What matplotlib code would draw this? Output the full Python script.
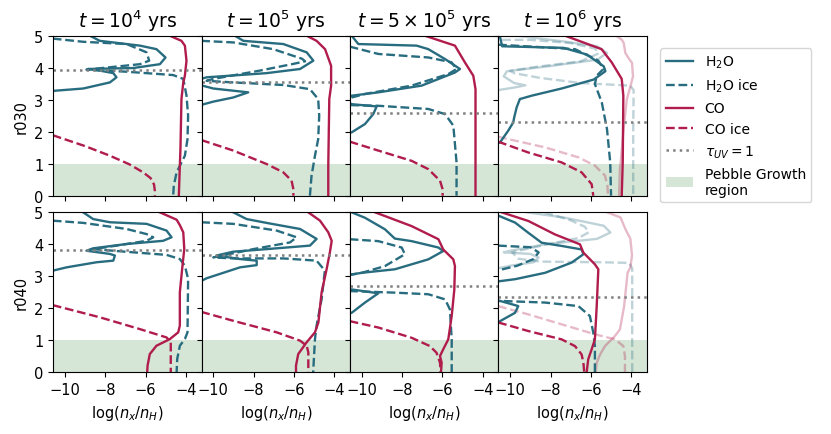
import numpy as np
import matplotlib.pyplot as plt
from matplotlib.lines import Line2D
from matplotlib.patches import Patch

teal = '#286c80'
crim = '#b01c4c'
green = '#2e7d32'

titles = [r'$t = 10^4$ yrs', r'$t = 10^5$ yrs', r'$t = 5\times10^5$ yrs', r'$t = 10^6$ yrs']
rows = ['r030', 'r040']
tau_r030 = [3.93, 3.54, 2.60, 2.29]
tau_r040 = [3.82, 3.67, 2.70, 2.36]
pebble_top = 1.0

# r030
r030_t4_h2o = [(-8.76,5.0),(-8.27,4.84),(-6.28,4.69),(-5.46,4.58),(-5.01,4.32),(-5.29,4.11),(-6.61,3.99),(-8.85,3.96),(-8.27,3.91),(-7.6,3.83),(-7.44,3.70),(-7.77,3.54),(-9.09,3.35),(-10.5,3.28),(-11.0,3.22)]
r030_t4_h2oice = [(-10.6,4.91),(-9.09,4.81),(-6.94,4.74),(-5.95,4.48),(-5.82,4.22),(-6.28,4.11),(-8.93,3.94),(-6.94,3.875),(-4.63,3.77),(-4.13,3.65),(-3.97,3.13),(-3.89,2.5),(-3.92,1.77),(-4.05,1.25),(-4.46,0.73),(-4.6,0.31),(-4.63,0)]
r030_t4_co = [(-4.8,5.0),(-4.22,4.84),(-4.05,4.69),(-3.97,4.22),(-4.05,3.75),(-4.13,3.54),(-4.22,3.02),(-4.27,1.46),(-4.3,0.94),(-4.35,0)]
r030_t4_coice = [(-10.6,1.89),(-9.0,1.55),(-7.77,1.25),(-6.8,0.98),(-6.12,0.73),(-5.75,0.55),(-5.58,0.35),(-5.54,0.15),(-5.54,0)]

r030_t5_h2o = [(-8.93,5.0),(-8.51,4.84),(-6.53,4.74),(-5.37,4.48),(-5.04,4.22),(-5.7,3.96),(-7.36,3.83),(-10.33,3.70),(-10.9,3.6),(-10.66,3.46),(-10.0,3.35),(-8.27,3.23),(-9.01,3.07),(-10.0,2.94),(-10.53,2.85),(-10.9,2.8)]
r030_t5_h2oice = [(-10.6,4.84),(-9.01,4.79),(-7.03,4.58),(-5.6,4.28),(-5.45,4.2),(-6.03,4.12),(-7.69,3.91),(-10.0,3.65),(-10.33,3.59),(-9.01,3.54),(-6.53,3.46),(-5.21,3.33),(-4.8,3.02),(-4.75,2.5),(-4.8,1.77),(-4.96,1.25),(-5.13,0.625),(-5.21,0)]
r030_t5_co = [(-5.37,5.0),(-4.88,4.84),(-4.46,4.58),(-4.16,4.06),(-4.16,3.44),(-4.25,3.02),(-4.3,0.94),(-4.3,0)]
r030_t5_coice = [(-10.6,1.74),(-9.01,1.41),(-7.36,0.99),(-6.53,0.73),(-6.12,0.47),(-6.03,0.2),(-6.03,0)]

r030_t55_h2o = [(-10.5,5.0),(-10.17,4.74),(-7.28,4.69),(-6.7,4.58),(-5.87,4.27),(-5.13,3.96),(-5.38,3.85),(-7.03,3.44),(-9.18,3.23),(-10.5,3.125),(-10.9,3.0),(-10.5,2.86),(-9.26,2.79),(-9.43,2.55),(-9.84,2.24),(-10.5,1.98),(-10.9,1.9)]
r030_t55_h2oice = [(-10.6,4.66),(-9.18,4.43),(-6.7,4.32),(-5.55,4.17),(-5.3,3.96),(-5.71,3.80),(-7.53,3.44),(-9.84,3.18),(-10.5,3.07),(-10.9,2.95),(-10.5,2.83),(-9.18,2.81),(-6.7,2.71),(-5.87,2.55),(-5.46,2.19),(-5.3,1.04),(-5.3,0)]
r030_t55_co = [(-6.87,5.0),(-5.38,4.69),(-4.89,4.17),(-4.47,3.75),(-4.36,3.33),(-4.36,0)]
r030_t55_coice = [(-10.6,1.69),(-9.18,1.41),(-7.53,1.09),(-6.7,0.83),(-6.12,0.47),(-5.99,0.2),(-5.99,0)]

r030_t6_h2o = [(-10.5,4.95),(-10.4,4.67),(-7.35,4.62),(-6.19,4.41),(-5.36,4.04),(-5.28,3.89),(-5.86,3.63),(-7.45,3.35),(-8.94,3.125),(-9.52,3.02),(-9.68,2.76),(-9.8,2.45),(-9.85,2.29),(-10.1,2.03),(-10.5,1.67),(-10.9,1.55)]
r030_t6_h2oice = [(-10.6,4.72),(-6.79,4.58),(-5.63,4.22),(-5.38,3.96),(-5.71,3.75),(-5.8,3.49),(-5.46,2.92),(-5.2,2.08),(-5.04,1.04),(-5.0,0)]
r030_t6_co = [(-7.28,5.0),(-5.47,4.58),(-4.97,4.17),(-4.47,3.65),(-4.39,3.125),(-4.42,1.04),(-4.47,0)]
r030_t6_coice = [(-10.6,1.69),(-9.1,1.35),(-7.45,1.04),(-6.46,0.73),(-5.96,0.36),(-5.88,0)]
r030_ref_h2o = [(-9.66,5.0),(-7.35,4.82),(-5.69,4.67),(-5.2,4.46),(-5.69,4.25),(-8.17,4.04),(-10.16,3.89),(-10.32,3.73),(-9.8,3.52),(-9.25,3.45),(-9.8,3.38),(-10.6,3.3),(-11.0,3.25)]
r030_ref_h2oice = [(-10.4,4.87),(-9.0,4.87),(-7.0,4.77),(-5.8,4.6),(-5.6,4.45),(-6.5,4.2),(-8.8,4.02),(-10.0,3.9),(-9.8,3.83),(-8.5,3.68),(-6.5,3.52),(-4.05,3.44),(-3.88,3.3),(-3.9,2.0),(-3.9,0)]
r030_ref_co = [(-4.75,5.0),(-4.46,4.87),(-4.37,4.77),(-4.29,4.46),(-4.13,4.3),(-3.96,4.15),(-3.91,3.73),(-4.04,3.42),(-4.22,3.0),(-4.39,2.0),(-4.5,1.2),(-4.56,0.83),(-4.6,0)]
r030_ref_coice = [(-10.6,1.84),(-8.27,1.51),(-6.62,1.2),(-5.8,0.94),(-5.3,0.63),(-5.18,0.31),(-5.15,0)]

# r040
r040_t4_h2o = [(-9.09,5.0),(-8.6,4.79),(-7.77,4.69),(-5.95,4.64),(-4.96,4.43),(-4.71,4.22),(-5.13,4.11),(-6.94,4.01),(-8.6,3.875),(-8.93,3.8),(-7.77,3.7),(-7.52,3.65),(-7.6,3.49),(-8.43,3.44),(-9.92,3.28),(-10.58,3.18),(-11.0,3.12)]
r040_t4_h2oice = [(-10.6,4.74),(-9.09,4.67),(-6.94,4.48),(-5.95,4.32),(-5.62,4.22),(-5.95,4.11),(-7.44,3.96),(-8.6,3.85),(-6.61,3.75),(-4.96,3.67),(-4.3,3.54),(-4.05,3.33),(-3.89,2.92),(-3.92,1.25),(-4.05,1.04),(-4.3,0.83),(-4.43,0.42),(-4.46,0)]
r040_t4_co = [(-5.29,5.0),(-4.46,4.77),(-4.3,4.6),(-4.13,4.375),(-4.08,3.85),(-4.17,3.33),(-4.3,2.5),(-4.3,1.46),(-4.38,1.25),(-4.79,1.04),(-5.46,0.83),(-5.79,0.57),(-5.9,0.21),(-5.92,0)]
r040_t4_coice = [(-10.6,2.1),(-8.27,1.72),(-6.28,1.35),(-4.96,1.09),(-4.75,0.94),(-4.75,0)]

r040_t5_h2o = [(-9.01,5.0),(-8.35,4.79),(-7.36,4.67),(-5.7,4.48),(-4.88,4.17),(-5.21,3.96),(-7.36,3.85),(-9.01,3.77),(-9.84,3.65),(-8.68,3.54),(-7.85,3.49),(-7.85,3.35),(-8.68,3.28),(-10.33,2.94),(-10.58,2.86),(-11.0,2.8)]
r040_t5_h2oice = [(-10.6,4.69),(-9.01,4.64),(-6.86,4.43),(-5.87,4.22),(-6.2,4.06),(-8.02,3.85),(-10.0,3.59),(-9.01,3.56),(-6.53,3.56),(-4.88,3.49),(-4.47,3.18),(-4.63,2.29),(-4.88,1.46),(-4.96,1.04),(-5.05,0)]
r040_t5_co = [(-5.29,5.0),(-4.71,4.74),(-4.3,4.375),(-4.13,4.11),(-4.22,3.75),(-4.38,3.23),(-4.63,2.5),(-4.79,1.56),(-4.96,1.25),(-5.37,0.94),(-5.79,0.57),(-5.9,0.21),(-5.9,0)]
r040_t5_coice = [(-10.6,1.89),(-9.01,1.61),(-6.86,1.25),(-5.7,0.99),(-5.37,0.83),(-5.29,0.625),(-5.29,0)]

r040_t55_h2o = [(-10.5,5.0),(-9.84,4.83),(-8.85,4.47),(-8.36,4.18),(-7.53,4.1),(-6.2,3.9),(-5.96,3.79),(-6.7,3.53),(-8.36,3.22),(-10.0,3.11),(-10.5,3.06),(-11.0,3.0),(-11.0,2.6),(-10.5,2.59),(-9.18,2.47),(-9.84,2.18),(-10.5,1.86),(-11.0,1.8)]
r040_t55_h2oice = [(-10.6,4.16),(-9.18,4.1),(-8.02,3.9),(-7.86,3.69),(-8.85,3.32),(-10.0,3.11),(-10.6,3.04),(-11.0,3.0),(-11.0,2.55),(-10.6,2.54),(-8.36,2.49),(-6.7,2.44),(-5.87,2.28),(-5.63,1.97),(-5.54,1.03),(-5.54,0)]
r040_t55_co = [(-9.34,5.0),(-7.53,4.57),(-6.2,4.16),(-5.96,3.84),(-5.46,3.53),(-5.38,3.32),(-5.41,2.59),(-5.54,1.76),(-5.71,1.03),(-5.96,0.72),(-6.12,0.51),(-6.04,0.3),(-6.07,0)]
r040_t55_coice = [(-10.6,1.6),(-9.18,1.4),(-7.53,1.08),(-6.62,0.82),(-6.29,0.61),(-6.12,0.3),(-6.09,0)]

r040_t6_h2o = [(-10.6,4.9),(-9.76,4.68),(-9.1,4.36),(-8.44,4.05),(-7.45,3.95),(-6.46,3.84),(-6.37,3.69),(-6.95,3.43),(-8.27,3.11),(-9.76,2.91),(-10.5,2.85),(-11.0,2.8),(-11.0,2.24),(-10.5,2.23),(-9.93,2.13),(-9.6,2.07),(-9.76,1.86),(-10.5,1.6),(-11.0,1.5)]
r040_t6_h2oice = [(-10.6,3.96),(-9.0,3.91),(-8.59,3.75),(-8.84,3.54),(-9.66,3.33),(-10.32,3.23),(-11.0,3.1),(-11.0,2.24),(-10.42,2.23),(-8.27,2.18),(-6.62,2.07),(-6.05,1.76),(-5.88,1.24),(-5.8,0.82),(-5.8,0)]
r040_t6_co = [(-10.42,5.0),(-9.1,4.73),(-7.78,4.31),(-6.54,4.0),(-6.37,3.74),(-5.8,3.375),(-5.63,3.22),(-5.71,2.07),(-5.8,1.03),(-5.96,0.72),(-6.13,0.41),(-6.21,0)]
r040_t6_coice = [(-10.6,1.56),(-9.1,1.29),(-7.45,1.03),(-6.79,0.82),(-6.46,0.56),(-6.37,0.3),(-6.33,0)]
r040_ref_h2o = [(-9.17,5.0),(-7.35,4.84),(-5.36,4.58),(-5.03,4.37),(-5.7,4.17),(-8.17,4.01),(-9.99,3.8),(-10.32,3.75),(-9.0,3.70),(-8.59,3.59),(-8.84,3.44),(-10.0,3.33),(-10.6,3.25),(-11.0,3.2)]
r040_ref_h2oice = [(-8.3,5.0),(-7.0,4.75),(-6.3,4.55),(-6.1,4.38),(-6.6,4.2),(-8.3,3.98),(-9.9,3.75),(-9.6,3.55),(-8.5,3.46),(-5.5,3.44),(-4.1,3.42),(-3.95,3.25),(-3.95,0)]
r040_ref_co = [(-5.19,5.0),(-4.53,4.84),(-4.29,4.48),(-4.04,4.17),(-3.96,3.65),(-4.04,3.28),(-4.18,3.11),(-4.35,2.07),(-4.56,1.34),(-4.8,1.14),(-5.3,0.82),(-5.54,0.56),(-5.71,0.3),(-5.76,0)]
r040_ref_coice = [(-10.6,2.07),(-9.1,1.81),(-7.45,1.5),(-5.8,1.19),(-4.8,1.03),(-4.39,0.82),(-4.31,0.51),(-4.31,0)]

panels = [
    [(r030_t4_h2o, r030_t4_h2oice, r030_t4_co, r030_t4_coice, None),
     (r030_t5_h2o, r030_t5_h2oice, r030_t5_co, r030_t5_coice, None),
     (r030_t55_h2o, r030_t55_h2oice, r030_t55_co, r030_t55_coice, None),
     (r030_t6_h2o, r030_t6_h2oice, r030_t6_co, r030_t6_coice,
      (r030_ref_h2o, r030_ref_h2oice, r030_ref_co, r030_ref_coice))],
    [(r040_t4_h2o, r040_t4_h2oice, r040_t4_co, r040_t4_coice, None),
     (r040_t5_h2o, r040_t5_h2oice, r040_t5_co, r040_t5_coice, None),
     (r040_t55_h2o, r040_t55_h2oice, r040_t55_co, r040_t55_coice, None),
     (r040_t6_h2o, r040_t6_h2oice, r040_t6_co, r040_t6_coice,
      (r040_ref_h2o, r040_ref_h2oice, r040_ref_co, r040_ref_coice))],
]
taus = [tau_r030, tau_r040]


def draw(ax, curves, alpha=1.0):
    styles = [(teal, '-'), (teal, '--'), (crim, '-'), (crim, '--')]
    for c, (col, ls) in zip(curves, styles):
        a = np.array(c)
        ax.plot(a[:, 0], a[:, 1], color=col, ls=ls, lw=1.7, alpha=alpha)


fig, axes = plt.subplots(2, 4, figsize=(8.31, 4.35), dpi=100, sharex=True, sharey=True)
fig.subplots_adjust(left=0.064, right=0.7785, top=0.9156, bottom=0.1418, wspace=0, hspace=0.104)

for i in range(2):
    for j in range(4):
        ax = axes[i, j]
        ax.axhspan(0, pebble_top, color=green, alpha=0.2, lw=0, zorder=0)
        p = panels[i][j]
        if p[4] is not None:
            draw(ax, p[4], alpha=0.3)
        draw(ax, p[:4])
        ax.axhline(taus[i][j], color='gray', ls=':', lw=1.8)
        ax.set_xlim(-10.58, -3.22)
        ax.set_ylim(0, 5)
        ax.set_xticks([-10, -8, -6, -4])
        ax.set_yticks([0, 1, 2, 3, 4, 5])
        ax.tick_params(labelsize=10.5)
        if i == 0:
            ax.set_title(titles[j], fontsize=13.5)
        else:
            ax.set_xlabel(r'$\log(n_x/n_H)$', fontsize=10.5)
        if j == 0:
            ax.set_ylabel(rows[i], fontsize=10.5)

handles = [
    Line2D([], [], color=teal, lw=1.7, ls='-'),
    Line2D([], [], color=teal, lw=1.7, ls='--'),
    Line2D([], [], color=crim, lw=1.7, ls='-'),
    Line2D([], [], color=crim, lw=1.7, ls='--'),
    Line2D([], [], color='gray', lw=1.8, ls=':'),
    Patch(facecolor=green, alpha=0.2, edgecolor='none'),
]
labels = [r'H$_2$O', r'H$_2$O ice', 'CO', 'CO ice', r'$\tau_{UV} = 1$', 'Pebble Growth\nregion']
fig.legend(handles, labels, loc='upper left', bbox_to_anchor=(0.786, 0.903), fontsize=10)

fig.savefig('out.png', dpi=100)
